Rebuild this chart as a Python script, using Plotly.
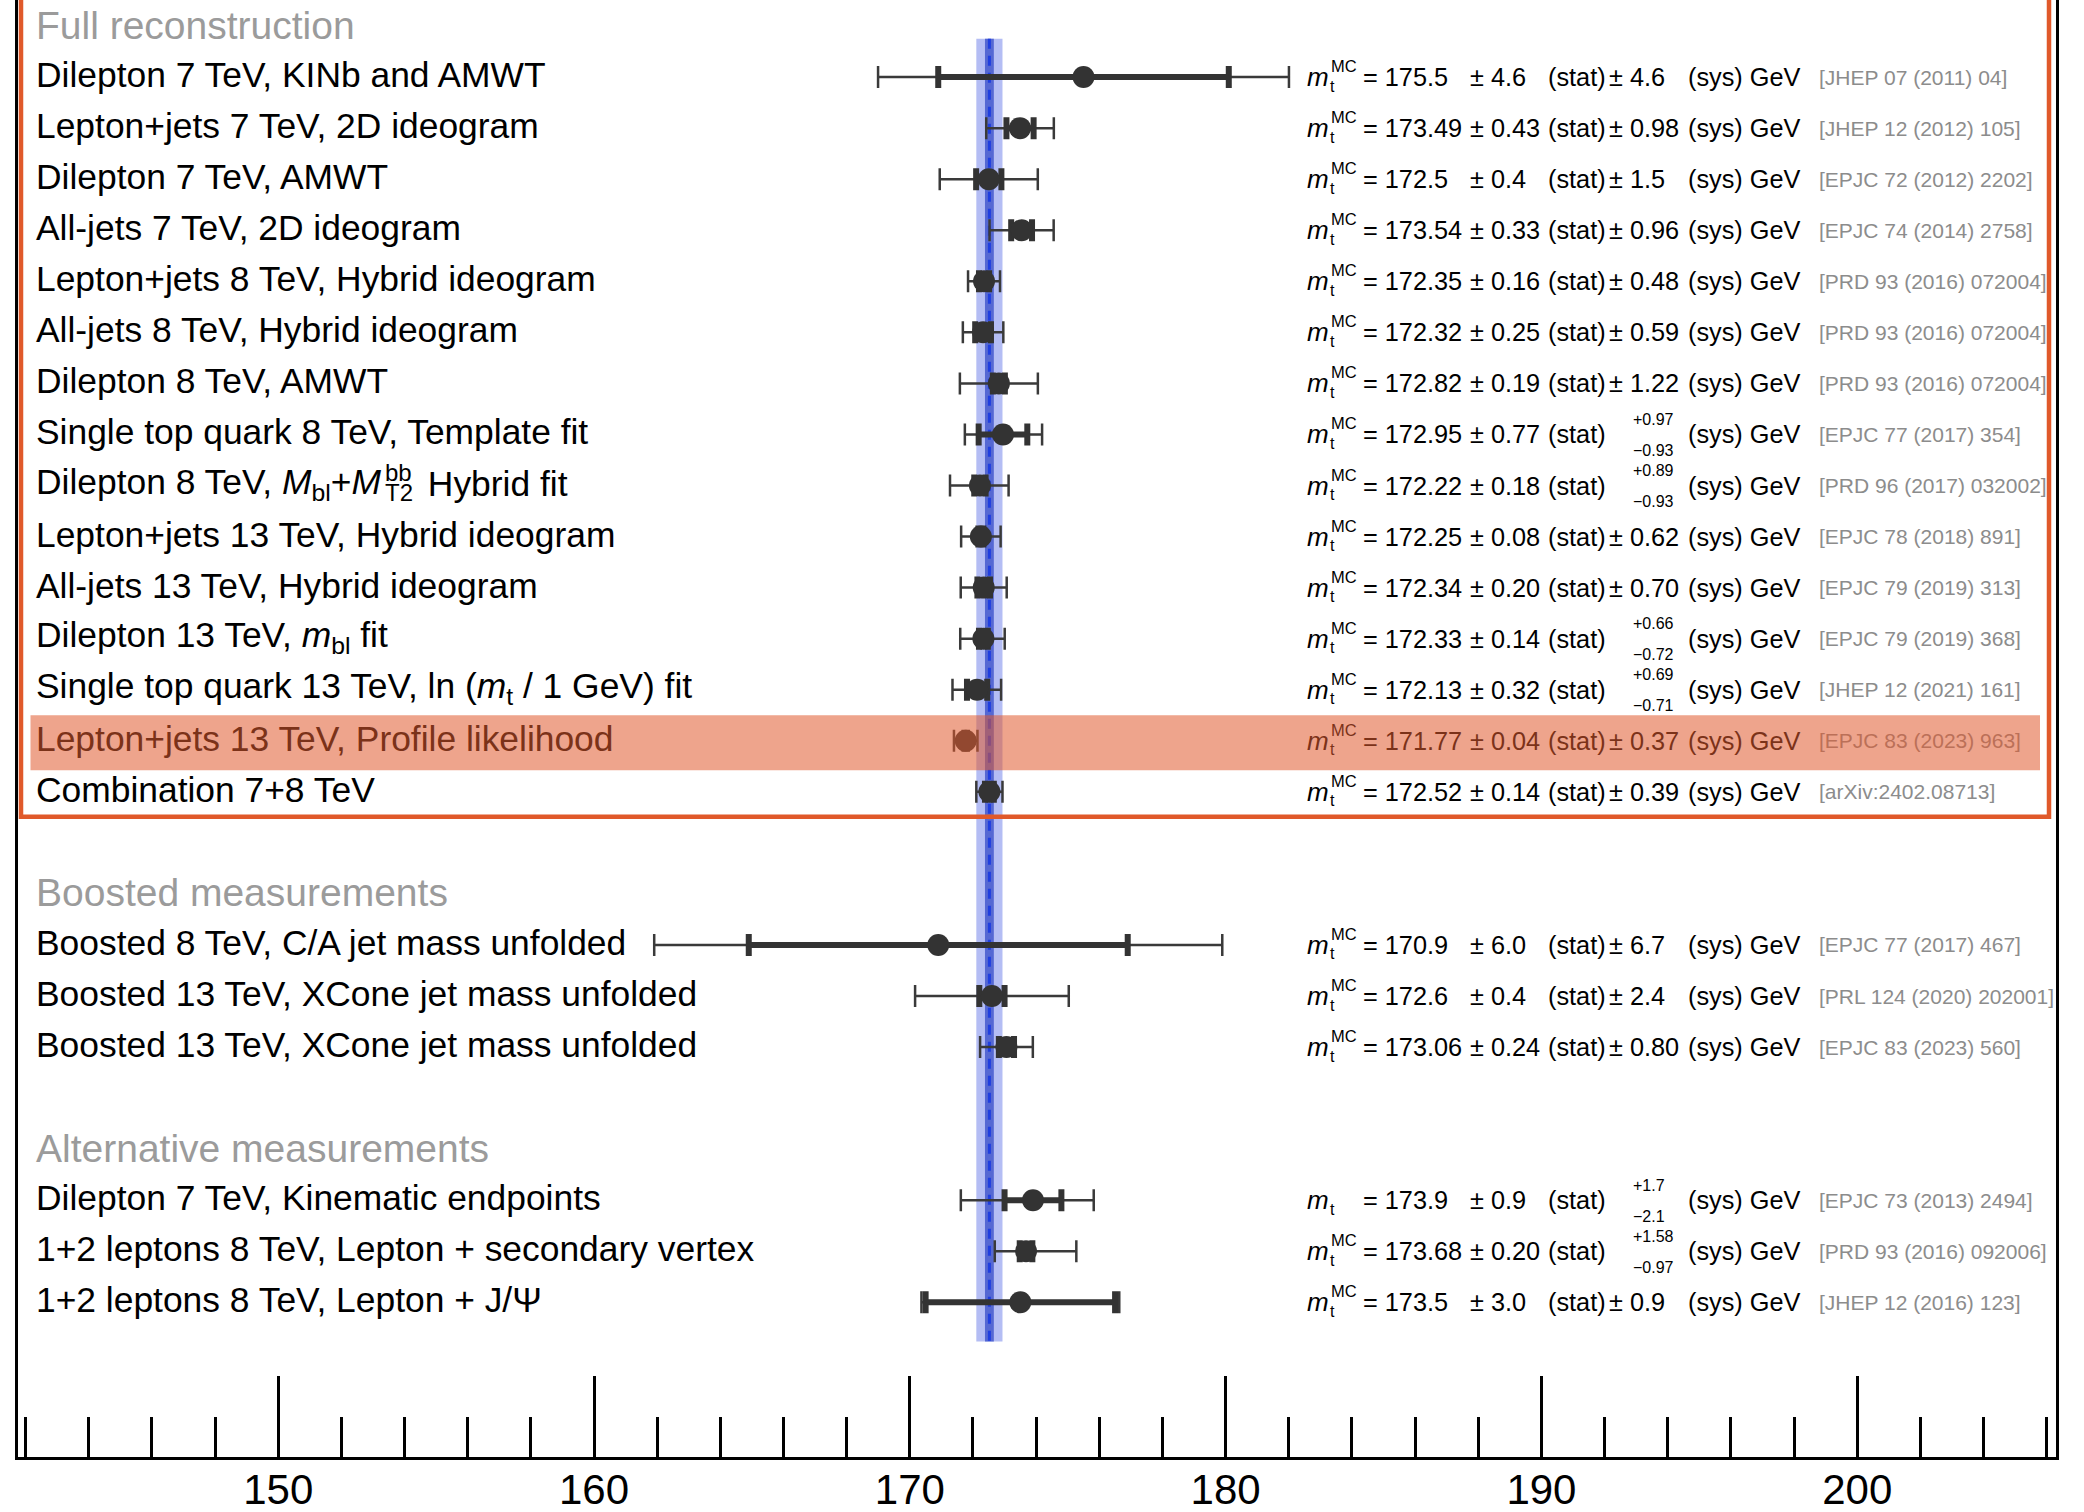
import math
import plotly.graph_objects as go

# ---------------- data ----------------
section_titles = ["Full reconstruction", "Boosted measurements", "Alternative measurements"]
section_rows = [0, 17, 22]

labels = [
    "Dilepton 7 TeV, KINb and AMWT",
    "Lepton+jets 7 TeV, 2D ideogram",
    "Dilepton 7 TeV, AMWT",
    "All-jets 7 TeV, 2D ideogram",
    "Lepton+jets 8 TeV, Hybrid ideogram",
    "All-jets 8 TeV, Hybrid ideogram",
    "Dilepton 8 TeV, AMWT",
    "Single top quark 8 TeV, Template fit",
    "Dilepton 8 TeV, <i>M</i><sub>bl</sub>+<i>M</i>|T2|bb| Hybrid fit",
    "Lepton+jets 13 TeV, Hybrid ideogram",
    "All-jets 13 TeV, Hybrid ideogram",
    "Dilepton 13 TeV, <i>m</i><sub>bl</sub> fit",
    "Single top quark 13 TeV, ln (<i>m</i><sub>t</sub> / 1 GeV) fit",
    "Lepton+jets 13 TeV, Profile likelihood",
    "Combination 7+8 TeV",
    "Boosted 8 TeV, C/A jet mass unfolded",
    "Boosted 13 TeV, XCone jet mass unfolded",
    "Boosted 13 TeV, XCone jet mass unfolded",
    "Dilepton 7 TeV, Kinematic endpoints",
    "1+2 leptons 8 TeV, Lepton + secondary vertex",
    "1+2 leptons 8 TeV, Lepton + J/Ψ",
]
row_pos = [1, 2, 3, 4, 5, 6, 7, 8, 9, 10, 11, 12, 13, 14, 15, 18, 19, 20, 23, 24, 25]

value_txt = ["175.5", "173.49", "172.5", "173.54", "172.35", "172.32", "172.82", "172.95", "172.22",
             "172.25", "172.34", "172.33", "172.13", "171.77", "172.52", "170.9", "172.6", "173.06",
             "173.9", "173.68", "173.5"]
stat_txt = ["4.6", "0.43", "0.4", "0.33", "0.16", "0.25", "0.19", "0.77", "0.18", "0.08", "0.20",
            "0.14", "0.32", "0.04", "0.14", "6.0", "0.4", "0.24", "0.9", "0.20", "3.0"]
sys_up_txt = ["4.6", "0.98", "1.5", "0.96", "0.48", "0.59", "1.22", "0.97", "0.89", "0.62", "0.70",
              "0.66", "0.69", "0.37", "0.39", "6.7", "2.4", "0.80", "1.7", "1.58", "0.9"]
sys_dn_txt = ["4.6", "0.98", "1.5", "0.96", "0.48", "0.59", "1.22", "0.93", "0.93", "0.62", "0.70",
              "0.72", "0.71", "0.37", "0.39", "6.7", "2.4", "0.80", "2.1", "0.97", "0.9"]
mass_sup = ["MC"] * 18 + ["", "MC", "MC"]
refs = ["[JHEP 07 (2011) 04]", "[JHEP 12 (2012) 105]", "[EPJC 72 (2012) 2202]", "[EPJC 74 (2014) 2758]",
        "[PRD 93 (2016) 072004]", "[PRD 93 (2016) 072004]", "[PRD 93 (2016) 072004]",
        "[EPJC 77 (2017) 354]", "[PRD 96 (2017) 032002]", "[EPJC 78 (2018) 891]",
        "[EPJC 79 (2019) 313]", "[EPJC 79 (2019) 368]", "[JHEP 12 (2021) 161]",
        "[EPJC 83 (2023) 963]", "[arXiv:2402.08713]", "[EPJC 77 (2017) 467]",
        "[PRL 124 (2020) 202001]", "[EPJC 83 (2023) 560]", "[EPJC 73 (2013) 2494]",
        "[PRD 93 (2016) 092006]", "[JHEP 12 (2016) 123]"]
highlight_idx = 13
combination_idx = 14

x_major_ticks = [150, 160, 170, 180, 190, 200]

# ---------------- derived ----------------
vals = [float(v) for v in value_txt]
stat = [float(v) for v in stat_txt]
sup_ = [float(v) for v in sys_up_txt]
sdn_ = [float(v) for v in sys_dn_txt]
tot_up = [math.sqrt(a * a + b * b) for a, b in zip(stat, sup_)]
tot_dn = [math.sqrt(a * a + b * b) for a, b in zip(stat, sdn_)]

# ---------------- geometry ----------------
W, H = 2084, 1512
ML, MR, MT, MB = 18, 28, 0, 55
PX_PER_GEV = 31.58
X0 = 141.76
X1 = X0 + (W - ML - MR) / PX_PER_GEV
Y_TOP, Y_BOT = -0.51, 28.03


def px2x(px):
    return X0 + (px - ML) / PX_PER_GEV


FONT = "Liberation Sans, Arial, Helvetica, sans-serif"
DARK = "#333333"

fig = go.Figure()

# total uncertainty (thin)
fig.add_trace(go.Scatter(
    x=vals, y=row_pos, mode="markers",
    marker=dict(size=1, color="rgba(0,0,0,0)"),
    error_x=dict(type="data", symmetric=False, array=tot_up, arrayminus=tot_dn,
                 thickness=2.5, width=11, color="#3a3a3a"),
    hoverinfo="skip", showlegend=False))
# statistical (thick) + marker
fig.add_trace(go.Scatter(
    x=vals, y=row_pos, mode="markers",
    marker=dict(size=22, color=DARK, symbol="circle"),
    error_x=dict(type="data", array=stat, thickness=6, width=11, color=DARK),
    hoverinfo="skip", showlegend=False))

shapes = []
cv, cs = vals[combination_idx], stat[combination_idx]
ctu, ctd = tot_up[combination_idx], tot_dn[combination_idx]
shapes.append(dict(type="rect", xref="x", yref="y", x0=cv - ctd, x1=cv + ctu, y0=0.25, y1=25.77,
                   fillcolor="#b4bdf4", line=dict(width=0), layer="below"))
shapes.append(dict(type="rect", xref="x", yref="y", x0=cv - cs, x1=cv + cs, y0=0.25, y1=25.77,
                   fillcolor="#5568d3", line=dict(width=0), layer="below"))
shapes.append(dict(type="line", xref="x", yref="y", x0=cv, x1=cv, y0=0.25, y1=25.77,
                   line=dict(color="#1f3ee0", width=3, dash="10px,7px"), layer="below"))
# highlight band
hy = row_pos[highlight_idx]
shapes.append(dict(type="rect", xref="x", yref="y", x0=px2x(30.5), x1=px2x(2040),
                   y0=hy - 0.5, y1=hy + 0.58, fillcolor="rgba(224,90,45,0.55)",
                   line=dict(width=0), layer="above"))
# red outline box around full reconstruction
xl, xr, yb = px2x(21), px2x(2049), 15.49
shapes.append(dict(type="path", xref="x", yref="y",
                   path=f"M {xl},-2 L {xl},{yb} L {xr},{yb} L {xr},-2",
                   line=dict(color="#e0592a", width=4.5), layer="above"))

ann = []


def add(px, y, text, size, color, yshift=0):
    ann.append(dict(x=px2x(px), y=y, xref="x", yref="y", text=text, showarrow=False,
                    xanchor="left", yanchor="middle", yshift=yshift,
                    font=dict(size=size, color=color, family=FONT)))


for t, r in zip(section_titles, section_rows):
    add(34, r, t, 39, "#9b9b9b", yshift=1)

X_LABEL, X_M, X_SUB, X_EQ = 34, 1305, 1327.5, 1361
X_PM1, X_STAT, X_PM2, X_ASYM, X_SYS, X_REF = 1468, 1546, 1607, 1631, 1686, 1817
FS_MAIN = 25.3
FS_LAB = 35.4

for i, lab in enumerate(labels):
    y = row_pos[i]
    hl = (i == highlight_idx)
    cm = "#7b3219" if hl else "#000000"
    cr = "#bb7058" if hl else "#8c8c8c"
    if "|" in lab:
        a, sub, sup, b = lab.split("|")
        add(X_LABEL, y, a, FS_LAB, cm, yshift=2)
        add(383, y, sub, 24, cm, yshift=-7)
        add(383, y, sup, 24, cm, yshift=13)
        add(416, y, b, FS_LAB, cm, yshift=2)
    else:
        add(X_LABEL, y, lab, FS_LAB, cm, yshift=2)
    add(X_M, y, "<i>m</i>", 26, cm)
    add(X_SUB, y, "t", 16, cm, yshift=-9)
    if mass_sup[i]:
        add(X_SUB + 1.5, y, mass_sup[i], 16.5, cm, yshift=11)
    add(X_EQ, y, "= " + value_txt[i], FS_MAIN, cm)
    add(X_PM1, y, "± " + stat_txt[i], FS_MAIN, cm)
    add(X_STAT, y, "(stat)", FS_MAIN, cm)
    if sys_up_txt[i] != sys_dn_txt[i]:
        add(X_ASYM, y, "+" + sys_up_txt[i], 16, cm, yshift=15)
        add(X_ASYM, y, "\u2212" + sys_dn_txt[i], 16, cm, yshift=-16)
    else:
        add(X_PM2, y, "± " + sys_up_txt[i], FS_MAIN, cm)
    add(X_SYS, y, "(sys) GeV", FS_MAIN, cm)
    add(X_REF, y, refs[i], 21, cr)

fig.update_layout(
    width=W, height=H,
    margin=dict(l=ML, r=MR, t=MT, b=MB, autoexpand=False),
    paper_bgcolor="white", plot_bgcolor="white",
    shapes=shapes, annotations=ann,
    showlegend=False,
    xaxis=dict(range=[X0, X1], autorange=False, showgrid=False, zeroline=False,
               showline=True, linecolor="black", linewidth=3, mirror=False,
               ticks="inside", ticklen=81, tickwidth=3, tickcolor="black",
               tickmode="array", tickvals=x_major_ticks,
               ticktext=[str(v) for v in x_major_ticks],
               minor=dict(ticks="inside", ticklen=40, tickwidth=3, tickcolor="black", dtick=2, tick0=0,
                          showgrid=False),
               tickfont=dict(size=42, color="black", family=FONT),
               ticklabelstandoff=-6, automargin=False, fixedrange=True),
    yaxis=dict(range=[Y_BOT, Y_TOP], autorange=False, showgrid=False, zeroline=False,
               showline=True, linecolor="black", linewidth=3, mirror=True,
               ticks="", showticklabels=False, automargin=False, fixedrange=True),
)

fig.write_html("out.html")
